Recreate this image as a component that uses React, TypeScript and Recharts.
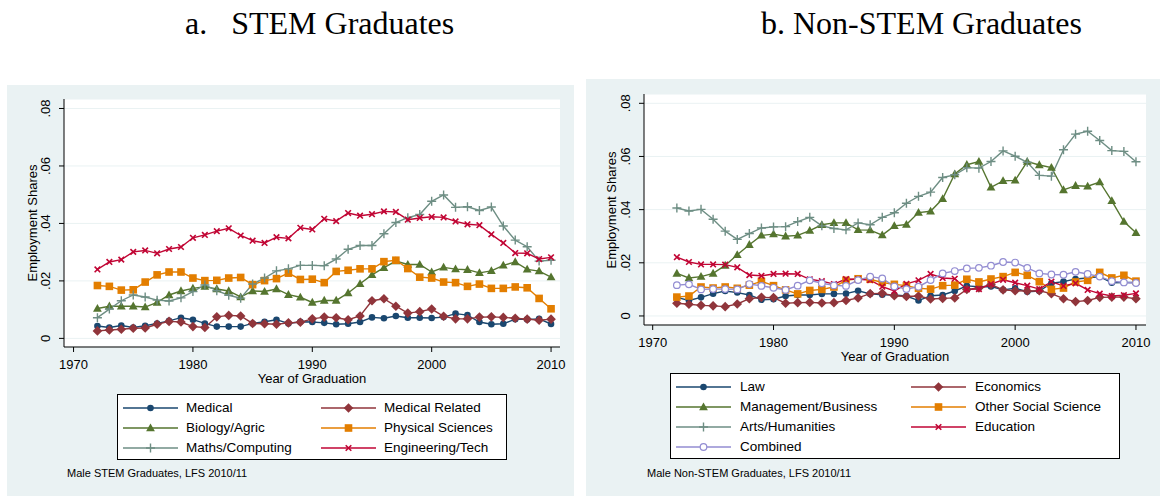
import React from 'react';
import { LineChart, Line, XAxis, YAxis, CartesianGrid, Legend } from 'recharts';

/* =======================
   Data
======================= */

const YEARS = [
  1972, 1973, 1974, 1975, 1976, 1977, 1978, 1979, 1980, 1981, 1982, 1983, 1984,
  1985, 1986, 1987, 1988, 1989, 1990, 1991, 1992, 1993, 1994, 1995, 1996, 1997,
  1998, 1999, 2000, 2001, 2002, 2003, 2004, 2005, 2006, 2007, 2008, 2009, 2010,
];

const X_TICKS = [1970, 1980, 1990, 2000, 2010];
const Y_TICKS = [0, 0.02, 0.04, 0.06, 0.08];

// panel a: STEM
const MEDICAL = [
  0.0043, 0.0038, 0.0045, 0.0038, 0.0044, 0.0052, 0.0061, 0.0072, 0.0065, 0.0052,
  0.0041, 0.0041, 0.0041, 0.0052, 0.0058, 0.0065, 0.0052, 0.0058, 0.0057, 0.0054,
  0.0049, 0.0051, 0.0057, 0.0073, 0.007, 0.0078, 0.0072, 0.0072, 0.0071, 0.0074,
  0.0086, 0.0081, 0.0057, 0.0049, 0.0051, 0.0067, 0.0066, 0.0068, 0.005,
];
const MEDICAL_RELATED = [
  0.0026, 0.0029, 0.0032, 0.0035, 0.0036, 0.0049, 0.0059, 0.0057, 0.0041, 0.0038,
  0.0075, 0.008, 0.0078, 0.0052, 0.0051, 0.0049, 0.0054, 0.0056, 0.0068, 0.0074,
  0.0072, 0.0065, 0.0078, 0.0131, 0.0138, 0.0112, 0.0088, 0.0093, 0.0102, 0.0077,
  0.0068, 0.0068, 0.0074, 0.0075, 0.0073, 0.007, 0.0067, 0.0063, 0.0067,
];
const BIOLOGY = [
  0.0104, 0.0112, 0.0112, 0.0112, 0.0109, 0.0125, 0.0151, 0.0165, 0.0174, 0.018,
  0.0172, 0.0165, 0.0144, 0.0165, 0.0163, 0.0172, 0.0152, 0.0143, 0.0125, 0.0132,
  0.0132, 0.0158, 0.019, 0.0221, 0.0246, 0.0269, 0.0257, 0.0257, 0.0231, 0.0247,
  0.0241, 0.0239, 0.0228, 0.0235, 0.0254, 0.0266, 0.024, 0.0234, 0.0213,
];
const PHYSICAL = [
  0.0184, 0.0181, 0.0168, 0.0169, 0.0196, 0.0221, 0.0231, 0.0231, 0.021, 0.0201,
  0.0202, 0.021, 0.0212, 0.0187, 0.0201, 0.0208, 0.0227, 0.0205, 0.0206, 0.0194,
  0.0233, 0.0237, 0.0242, 0.0242, 0.0267, 0.0272, 0.0243, 0.0213, 0.021, 0.0196,
  0.0194, 0.0181, 0.0189, 0.0174, 0.0174, 0.0179, 0.0176, 0.0139, 0.0103,
];
const MATHS = [
  0.0072, 0.0102, 0.0131, 0.0151, 0.0144, 0.0133, 0.013, 0.0141, 0.0163, 0.0186,
  0.0166, 0.015, 0.014, 0.0189, 0.021, 0.0235, 0.0242, 0.0254, 0.0254, 0.0253,
  0.0276, 0.031, 0.0323, 0.0323, 0.0364, 0.0403, 0.042, 0.0431, 0.0477, 0.0499,
  0.0456, 0.0458, 0.0445, 0.0457, 0.0391, 0.0342, 0.0319, 0.0269, 0.0272,
];
const ENGINEERING = [
  0.024, 0.0266, 0.0274, 0.0301, 0.0306, 0.0296, 0.0311, 0.0318, 0.035, 0.036,
  0.0373, 0.0383, 0.0358, 0.034, 0.0332, 0.0352, 0.0348, 0.0385, 0.0379, 0.0416,
  0.0408, 0.0436, 0.0427, 0.0432, 0.0442, 0.044, 0.0413, 0.0419, 0.0423, 0.0421,
  0.0407, 0.0397, 0.0394, 0.0362, 0.0332, 0.0297, 0.0296, 0.0276, 0.0282,
];

// panel b: Non-STEM
const LAW = [
  0.007, 0.0058, 0.007, 0.0084, 0.0094, 0.0088, 0.0079, 0.0061, 0.0063, 0.0075,
  0.0079, 0.0079, 0.0083, 0.0083, 0.0084, 0.0095, 0.0083, 0.008, 0.0079, 0.0075,
  0.0058, 0.0076, 0.0079, 0.0094, 0.0113, 0.011, 0.0111, 0.0098, 0.0104, 0.0091,
  0.0094, 0.0123, 0.0129, 0.0139, 0.0143, 0.0148, 0.0125, 0.0126, 0.0126,
];
const ECONOMICS = [
  0.0048, 0.0044, 0.004, 0.0038, 0.0035, 0.0045, 0.0065, 0.007, 0.0069, 0.0048,
  0.005, 0.0051, 0.0049, 0.005, 0.0058, 0.0068, 0.0084, 0.0085, 0.0076, 0.0073,
  0.0075, 0.0064, 0.0066, 0.0068, 0.01, 0.0105, 0.0118, 0.0098, 0.0095, 0.0094,
  0.0095, 0.0084, 0.0065, 0.0054, 0.0058, 0.007, 0.0071, 0.0071, 0.0065,
];
const MANAGEMENT = [
  0.016, 0.0143, 0.0148, 0.016, 0.019, 0.023, 0.0268, 0.0303, 0.0308, 0.03,
  0.0303, 0.0321, 0.0343, 0.035, 0.035, 0.0324, 0.0323, 0.0304, 0.0339, 0.0344,
  0.0389, 0.0394, 0.0441, 0.0534, 0.0569, 0.0581, 0.0484, 0.0508, 0.051, 0.0581,
  0.0568, 0.0558, 0.0474, 0.049, 0.0488, 0.0504, 0.0433, 0.0355, 0.0313,
];
const OTHER_SOCIAL = [
  0.0071, 0.0075, 0.0109, 0.0105, 0.0109, 0.0104, 0.0116, 0.013, 0.0114, 0.0098,
  0.0083, 0.0096, 0.01, 0.0109, 0.0134, 0.014, 0.0138, 0.0126, 0.0119, 0.0114,
  0.0104, 0.0101, 0.0114, 0.0116, 0.0138, 0.0128, 0.0139, 0.0148, 0.0164, 0.0153,
  0.0129, 0.01, 0.0105, 0.0128, 0.0134, 0.0164, 0.0143, 0.0153, 0.0131,
];
const ARTS = [
  0.0406, 0.0395, 0.0401, 0.0364, 0.0319, 0.0288, 0.031, 0.0331, 0.0335, 0.0336,
  0.0355, 0.0371, 0.0339, 0.0329, 0.0324, 0.035, 0.0343, 0.0371, 0.0388, 0.0424,
  0.045, 0.0466, 0.0521, 0.0531, 0.0558, 0.0556, 0.0581, 0.0621, 0.0601, 0.0578,
  0.0529, 0.0526, 0.0625, 0.0684, 0.0695, 0.066, 0.0622, 0.0619, 0.058,
];
const EDUCATION = [
  0.0221, 0.0203, 0.0194, 0.0194, 0.0193, 0.0183, 0.0154, 0.0151, 0.0158, 0.0159,
  0.0158, 0.0138, 0.0131, 0.012, 0.0139, 0.0138, 0.0135, 0.011, 0.0094, 0.0121,
  0.0134, 0.0158, 0.0143, 0.014, 0.01, 0.0101, 0.012, 0.0136, 0.0125, 0.0114,
  0.0101, 0.0129, 0.0113, 0.0123, 0.0098, 0.0084, 0.0075, 0.0078, 0.0085,
];
const COMBINED = [
  0.0116, 0.0119, 0.01, 0.0101, 0.0101, 0.01, 0.012, 0.0113, 0.0106, 0.0098,
  0.0114, 0.0134, 0.0123, 0.0115, 0.0113, 0.0135, 0.0148, 0.0141, 0.0111, 0.0101,
  0.011, 0.0135, 0.016, 0.0169, 0.0179, 0.0181, 0.0189, 0.0203, 0.0201, 0.0181,
  0.016, 0.0156, 0.0155, 0.0166, 0.0158, 0.0148, 0.0131, 0.0126, 0.0124,
];

/* =======================
   Colors (Stata s2color)
======================= */
const COLORS = {
  navy: '#1a476f',
  maroon: '#90353b',
  forest: '#55752f',
  orange: '#e37e00',
  teal: '#6e8e84',
  cranberry: '#c10534',
  lavender: '#938dd2',
  panel: '#eaf2f3',
  grid: '#eaf2f3',
  ink: '#000000',
};

const SANS = '"Liberation Sans", Arial, sans-serif';
const SERIF = '"Liberation Serif", "Times New Roman", serif';

type Shape = 'circle' | 'diamond' | 'triangle' | 'square' | 'plus' | 'cross' | 'hollow';

interface Series {
  key: string;
  name: string;
  color: string;
  shape: Shape;
  values: number[];
}

const STEM_SERIES: Series[] = [
  { key: 'medical', name: 'Medical', color: COLORS.navy, shape: 'circle', values: MEDICAL },
  { key: 'medRel', name: 'Medical Related', color: COLORS.maroon, shape: 'diamond', values: MEDICAL_RELATED },
  { key: 'bio', name: 'Biology/Agric', color: COLORS.forest, shape: 'triangle', values: BIOLOGY },
  { key: 'phys', name: 'Physical Sciences', color: COLORS.orange, shape: 'square', values: PHYSICAL },
  { key: 'maths', name: 'Maths/Computing', color: COLORS.teal, shape: 'plus', values: MATHS },
  { key: 'eng', name: 'Engineering/Tech', color: COLORS.cranberry, shape: 'cross', values: ENGINEERING },
];

const NON_STEM_SERIES: Series[] = [
  { key: 'law', name: 'Law', color: COLORS.navy, shape: 'circle', values: LAW },
  { key: 'econ', name: 'Economics', color: COLORS.maroon, shape: 'diamond', values: ECONOMICS },
  { key: 'mgmt', name: 'Management/Business', color: COLORS.forest, shape: 'triangle', values: MANAGEMENT },
  { key: 'oss', name: 'Other Social Science', color: COLORS.orange, shape: 'square', values: OTHER_SOCIAL },
  { key: 'arts', name: 'Arts/Humanities', color: COLORS.teal, shape: 'plus', values: ARTS },
  { key: 'edu', name: 'Education', color: COLORS.cranberry, shape: 'cross', values: EDUCATION },
  { key: 'comb', name: 'Combined', color: COLORS.lavender, shape: 'hollow', values: COMBINED },
];

const buildRows = (series: Series[]) =>
  YEARS.map((year, i) => {
    const row: Record<string, number> = { year };
    series.forEach((s) => {
      row[s.key] = s.values[i];
    });
    return row;
  });

/* =======================
   Markers
======================= */
const Marker = ({ shape, cx, cy, color }: { shape: Shape; cx: number; cy: number; color: string }) => {
  switch (shape) {
    case 'circle':
      return <circle cx={cx} cy={cy} r={3.3} fill={color} />;
    case 'diamond':
      return <path d={`M${cx},${cy - 4.8}L${cx + 4.8},${cy}L${cx},${cy + 4.8}L${cx - 4.8},${cy}Z`} fill={color} />;
    case 'triangle':
      return <path d={`M${cx},${cy - 4.6}L${cx + 4.4},${cy + 3.2}L${cx - 4.4},${cy + 3.2}Z`} fill={color} />;
    case 'square':
      return <rect x={cx - 3.8} y={cy - 3.8} width={7.6} height={7.6} fill={color} />;
    case 'plus':
      return (
        <path d={`M${cx - 4.5},${cy}H${cx + 4.5}M${cx},${cy - 4.5}V${cy + 4.5}`} stroke={color} strokeWidth={1.4} fill="none" />
      );
    case 'cross':
      return (
        <path
          d={`M${cx - 2.8},${cy - 2.8}L${cx + 2.8},${cy + 2.8}M${cx + 2.8},${cy - 2.8}L${cx - 2.8},${cy + 2.8}`}
          stroke={color}
          strokeWidth={1.6}
          fill="none"
        />
      );
    case 'hollow':
    default:
      return <circle cx={cx} cy={cy} r={3.3} fill="#ffffff" stroke={color} strokeWidth={1.2} />;
  }
};

const makeDot = (s: Series) => (props: any) => {
  const { cx, cy, index } = props;
  if (cx == null || cy == null) return <g key={`${s.key}-${index}`} />;
  return (
    <g key={`${s.key}-${index}`}>
      <Marker shape={s.shape} cx={cx} cy={cy} color={s.color} />
    </g>
  );
};

/* =======================
   Axis ticks
======================= */
const fmtShare = (v: number) => (v === 0 ? '0' : String(Number(v.toFixed(2))).replace('0.', '.'));

const YTick = (props: any) => {
  const { x, y, payload } = props;
  return (
    <text
      transform={`translate(${x - 11.5},${y}) rotate(-90)`}
      textAnchor="middle"
      dy="0.35em"
      fontSize={13}
      fontFamily={SANS}
      fill={COLORS.ink}
    >
      {fmtShare(payload.value)}
    </text>
  );
};

/* =======================
   Legend
======================= */
interface LegendLayout {
  colStep: number;
  textOffset: number;
}

// keeps the series order (Stata fills the legend row by row)
const StataLegend = ({ payload, series, layout }: { payload?: any[]; series: Series[]; layout: LegendLayout }) => {
  const names: Record<string, string> = {};
  (payload ?? []).forEach((item) => {
    names[item.dataKey] = item.value;
  });
  return (
    <div
      style={{
        position: 'relative',
        width: '100%',
        height: '100%',
        boxSizing: 'border-box',
        border: `1px solid ${COLORS.ink}`,
        background: '#ffffff',
      }}
    >
      {series.map((s, i) => {
        const left = 5 + (i % 2) * layout.colStep;
        const top = 3 + Math.floor(i / 2) * 20;
        return (
          <div key={s.key} style={{ position: 'absolute', left, top, height: 20, whiteSpace: 'nowrap' }}>
            <svg width={55} height={20} style={{ position: 'absolute', left: 0, top: 0 }}>
              <line x1={0} y1={10} x2={55} y2={10} stroke={s.color} strokeWidth={1.4} />
              <Marker shape={s.shape} cx={27.5} cy={10} color={s.color} />
            </svg>
            <span
              style={{
                position: 'absolute',
                left: layout.textOffset,
                top: 0,
                lineHeight: '20px',
                fontSize: 13.5,
                fontFamily: SANS,
                color: COLORS.ink,
              }}
            >
              {names[s.key] ?? s.name}
            </span>
          </div>
        );
      })}
    </div>
  );
};

/* =======================
   Panel
======================= */
interface PanelProps {
  series: Series[];
  left: number;
  chartHeight: number;
  margin: { top: number; right: number; bottom: number; left: number };
  xDomain: [number, number];
  yDomain: [number, number];
  legendBox: { left: number; top: number; width: number; height: number };
  legendLayout: LegendLayout;
}

const Panel = ({ series, left, chartHeight, margin, xDomain, yDomain, legendBox, legendLayout }: PanelProps) => {
  const rows = buildRows(series);
  return (
    <div style={{ position: 'absolute', left, top: 0 }}>
      <LineChart width={580} height={chartHeight} data={rows} margin={margin}>
        <CartesianGrid horizontal vertical={false} fill="#ffffff" stroke={COLORS.grid} strokeWidth={1} />
        <XAxis
          dataKey="year"
          type="number"
          domain={xDomain}
          ticks={X_TICKS}
          allowDataOverflow
          height={40}
          tickSize={5}
          tickMargin={8}
          stroke={COLORS.ink}
          tick={{ fontSize: 13, fontFamily: SANS, fill: COLORS.ink }}
        />
        <YAxis
          type="number"
          domain={yDomain}
          ticks={Y_TICKS}
          allowDataOverflow
          width={64}
          tickSize={5}
          tickMargin={2}
          stroke={COLORS.ink}
          tick={<YTick />}
        />
        <Legend
          layout="horizontal"
          align="center"
          verticalAlign="middle"
          wrapperStyle={{ ...legendBox }}
          content={(p: any) => <StataLegend payload={p.payload} series={series} layout={legendLayout} />}
        />
        {series.map((s) => (
          <Line
            key={s.key}
            dataKey={s.key}
            name={s.name}
            type="linear"
            stroke={s.color}
            strokeWidth={1.4}
            dot={makeDot(s)}
            activeDot={false}
            isAnimationActive={false}
          />
        ))}
      </LineChart>
    </div>
  );
};

const textBase: React.CSSProperties = { position: 'absolute', whiteSpace: 'pre', color: COLORS.ink };

const App = () => {
  return (
    <div style={{ position: 'absolute', left: 0, top: 0, width: 1160, height: 496, background: '#ffffff', overflow: 'hidden' }}>
      {/* titles */}
      <div style={{ ...textBase, left: 185, top: 7, fontFamily: SERIF, fontSize: 32, lineHeight: '32px' }}>
        a.   STEM Graduates
      </div>
      <div style={{ ...textBase, left: 761, top: 7, fontFamily: SERIF, fontSize: 32, lineHeight: '32px' }}>
        b. Non-STEM Graduates
      </div>

      {/* panel backgrounds */}
      <div style={{ position: 'absolute', left: 7, top: 85, width: 567, height: 411, background: COLORS.panel }} />
      <div style={{ position: 'absolute', left: 586, top: 79, width: 574, height: 417, background: COLORS.panel }} />

      {/* ================= STEM ================= */}
      <Panel
        series={STEM_SERIES}
        left={0}
        chartHeight={400}
        margin={{ top: 99, right: 20, bottom: 13, left: 0 }}
        xDomain={[1969.2, 2010.75]}
        yDomain={[-0.003, 0.0833]}
        legendBox={{ left: 117, top: 394, width: 390, height: 66 }}
        legendLayout={{ colStep: 198, textOffset: 63 }}
      />
      <div style={{ ...textBase, left: 312, top: 378, transform: 'translate(-50%,-50%)', fontFamily: SANS, fontSize: 13 }}>
        Year of Graduation
      </div>
      <div
        style={{ ...textBase, left: 32, top: 223, transform: 'translate(-50%,-50%) rotate(-90deg)', fontFamily: SANS, fontSize: 13 }}
      >
        Employment Shares
      </div>
      <div style={{ ...textBase, left: 67, top: 466, fontFamily: SANS, fontSize: 11, lineHeight: '14px' }}>
        Male STEM Graduates, LFS 2010/11
      </div>

      {/* ================= NON-STEM ================= */}
      <Panel
        series={NON_STEM_SERIES}
        left={580}
        chartHeight={400}
        margin={{ top: 94, right: 14, bottom: 35, left: 0 }}
        xDomain={[1969.28, 2010.83]}
        yDomain={[-0.0034, 0.0835]}
        legendBox={{ left: 90, top: 373, width: 450, height: 86 }}
        legendLayout={{ colStep: 235, textOffset: 64 }}
      />
      <div style={{ ...textBase, left: 895, top: 356, transform: 'translate(-50%,-50%)', fontFamily: SANS, fontSize: 13 }}>
        Year of Graduation
      </div>
      <div
        style={{ ...textBase, left: 611, top: 210, transform: 'translate(-50%,-50%) rotate(-90deg)', fontFamily: SANS, fontSize: 13 }}
      >
        Employment Shares
      </div>
      <div style={{ ...textBase, left: 647, top: 466, fontFamily: SANS, fontSize: 11, lineHeight: '14px' }}>
        Male Non-STEM Graduates, LFS 2010/11
      </div>
    </div>
  );
};

export default App;
